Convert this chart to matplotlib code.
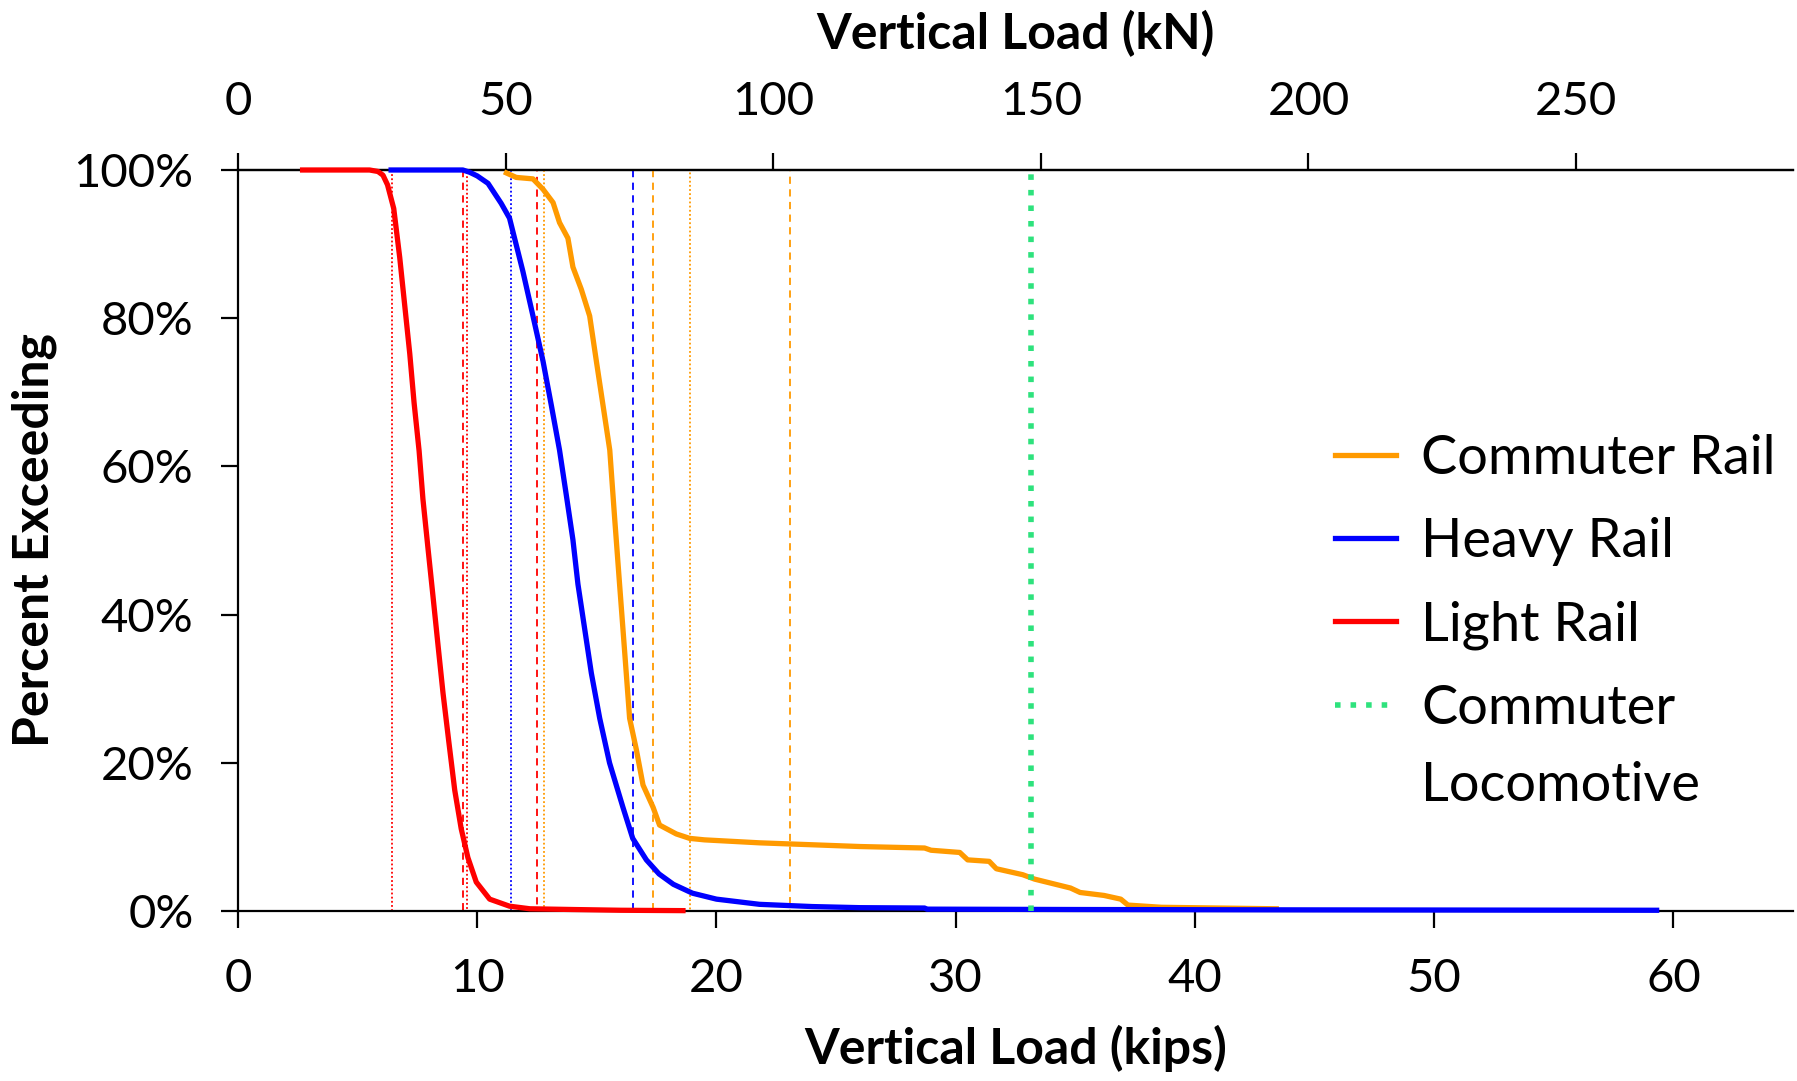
import matplotlib
matplotlib.use("Agg")
import matplotlib.pyplot as plt
from matplotlib.ticker import FuncFormatter

plt.rcParams['font.family'] = ['Lato', 'DejaVu Sans']

# percent-exceeding curves (x in kips, y in %)
light_x = [2.7, 5.5, 5.85, 6.06, 6.25, 6.51, 6.76, 6.97, 7.18, 7.36, 7.57, 7.73, 7.94, 8.15,
           8.36, 8.57, 8.81, 9.06, 9.33, 9.61, 9.96, 10.52, 11.35, 12.2, 14.0, 16.0, 18.6]
light_y = [100, 100, 99.8, 99.3, 98.0, 94.8, 88.2, 81.7, 75.2, 68.6, 62.1, 55.6, 49.0, 42.5,
           35.9, 29.4, 22.9, 16.3, 11.1, 7.2, 3.9, 1.6, 0.65, 0.3, 0.2, 0.1, 0.05]

heavy_x = [6.4, 9.4, 9.68, 10.0, 10.45, 11.0, 11.35, 11.91, 12.33, 12.75, 13.1, 13.44,
           13.72, 14.0, 14.21, 14.49, 14.77, 15.12, 15.53, 16.09, 16.5, 17.07, 17.6, 18.2,
           19.0, 20.0, 21.8, 24.0, 26.0, 28.7, 28.8, 35.0, 45.0, 59.3]
heavy_y = [100, 100, 99.7, 99.2, 98.2, 95.5, 93.5, 86.3, 80.3, 74.2, 68.2, 62.2,
           56.2, 50.1, 44.1, 38.1, 32.1, 26.0, 20.0, 14.0, 9.8, 6.9, 5.0, 3.6,
           2.4, 1.6, 0.9, 0.6, 0.45, 0.4, 0.25, 0.2, 0.15, 0.1]

comm_x = [11.22, 11.63, 12.33, 12.75, 13.17, 13.44, 13.79, 14.0, 14.35, 14.7, 14.98,
          15.26, 15.54, 15.74, 15.95, 16.16, 16.37, 16.65, 16.93, 17.35, 17.62, 18.32,
          18.88, 19.5, 21.8, 26.0, 28.7, 28.97, 30.17, 30.5, 31.4, 31.7, 32.8,
          33.3, 34.8, 35.2, 36.2, 36.9, 37.2, 38.6, 43.4]
comm_y = [99.6, 99.0, 98.8, 97.4, 95.6, 92.9, 90.8, 86.9, 83.9, 80.3, 74.2,
          68.2, 62.2, 53.2, 44.1, 35.1, 26.0, 21.8, 17.0, 14.0, 11.6, 10.4,
          9.8, 9.6, 9.2, 8.7, 8.5, 8.2, 7.9, 6.9, 6.7, 5.7, 4.9,
          4.3, 3.1, 2.5, 2.1, 1.6, 0.8, 0.5, 0.3]

# reference lines (kips)
light_dot = [6.42, 9.58]
light_dash = [9.39, 12.5]
heavy_dot = [11.4]
heavy_dash = [16.5]
comm_dot = [12.8, 18.89]
comm_dash = [17.36, 23.08]
loco_load = 33.14

KN_PER_KIP = 4.47
kn_ticks = [0, 50, 100, 150, 200, 250]

c_orange = '#ff9a00'
c_blue = '#0000ff'
c_red = '#ff0000'
c_green = '#2ee27d'

fig = plt.figure(figsize=(17.97, 10.81), dpi=100)
ax = fig.add_axes([238 / 1797, 1 - 911 / 1081, 1555 / 1797, 741 / 1081])


def ref_lines(xs, color, style):
    # drawn like a scatter series: up/down at each value, joined along 0
    px, py = [], []
    for i, x in enumerate(xs):
        px += [x, x]
        py += [100, 0] if i % 2 == 0 else [0, 100]
    ax.plot(px, py, color=color, lw=1.3, ls=style, zorder=2)


dot = (0, (1, 1.3))
dash = (0, (4, 3))
ref_lines(light_dot, c_red, dot)
ref_lines(light_dash, c_red, dash)
ref_lines(heavy_dot, c_blue, dot)
ref_lines(heavy_dash, c_blue, dash)
ref_lines(comm_dot, c_orange, dot)
ref_lines(comm_dash, c_orange, dash)

lw = 3.8
l1, = ax.plot(comm_x, comm_y, color=c_orange, lw=lw, clip_on=False, zorder=3)
l2, = ax.plot(heavy_x, heavy_y, color=c_blue, lw=lw, clip_on=False, zorder=4)
l3, = ax.plot(light_x, light_y, color=c_red, lw=lw, clip_on=False, zorder=5)
l4, = ax.plot([loco_load, loco_load], [0, 100], color=c_green, lw=4,
              ls=(0, (1, 1.8)), zorder=6)

ax.set_xlim(0, 65)
ax.set_ylim(0, 100)
ax.set_xticks(range(0, 61, 10))
ax.set_yticks(range(0, 101, 20))
ax.yaxis.set_major_formatter(FuncFormatter(lambda v, p: f'{v:.0f}%'))

ax.spines['right'].set_visible(False)
for s in ['left', 'bottom', 'top']:
    ax.spines[s].set_linewidth(1.6)

fs_tick = 34
fs_lab = 36
fs_leg = 39
ax.tick_params(axis='x', direction='out', length=12, width=1.6, pad=22, labelsize=fs_tick)
ax.tick_params(axis='y', direction='out', length=12, width=1.6, pad=20, labelsize=fs_tick)

secax = ax.secondary_xaxis('top', functions=(lambda x: x * KN_PER_KIP,
                                             lambda x: x / KN_PER_KIP))
secax.set_xticks(kn_ticks)
secax.tick_params(direction='out', length=12, width=1.6, pad=22, labelsize=fs_tick)
secax.spines['top'].set_linewidth(1.6)

ax.set_xlabel('Vertical Load (kips)', fontsize=fs_lab, fontweight='bold')
ax.xaxis.set_label_coords(0.5, -0.186)
ax.xaxis.label.set_va('center')
ax.set_ylabel('Percent Exceeding', fontsize=fs_lab, fontweight='bold')
ax.yaxis.set_label_coords(-0.131, 0.5)
ax.yaxis.label.set_va('center')
ax.text(0.5, 1.1835, 'Vertical Load (kN)', transform=ax.transAxes, ha='center',
        va='center', fontsize=fs_lab, fontweight='bold')

leg = fig.legend([l1, l2, l3, l4], ['Commuter Rail', 'Heavy Rail', 'Light Rail', 'Commuter'],
                 loc='upper left', bbox_to_anchor=(1335 / 1797, 1 - 434 / 1081),
                 frameon=False, fontsize=fs_leg, handlelength=1.12, handletextpad=0.47,
                 labelspacing=0.63, borderaxespad=0, borderpad=0)

fig.canvas.draw()
bb = leg.get_texts()[-1].get_window_extent()
fig.text(bb.x0 / fig.bbox.width, (bb.y0 - 28) / fig.bbox.height, 'Locomotive',
         fontsize=fs_leg, va='top', ha='left')

fig.savefig('out.png', dpi=100)
